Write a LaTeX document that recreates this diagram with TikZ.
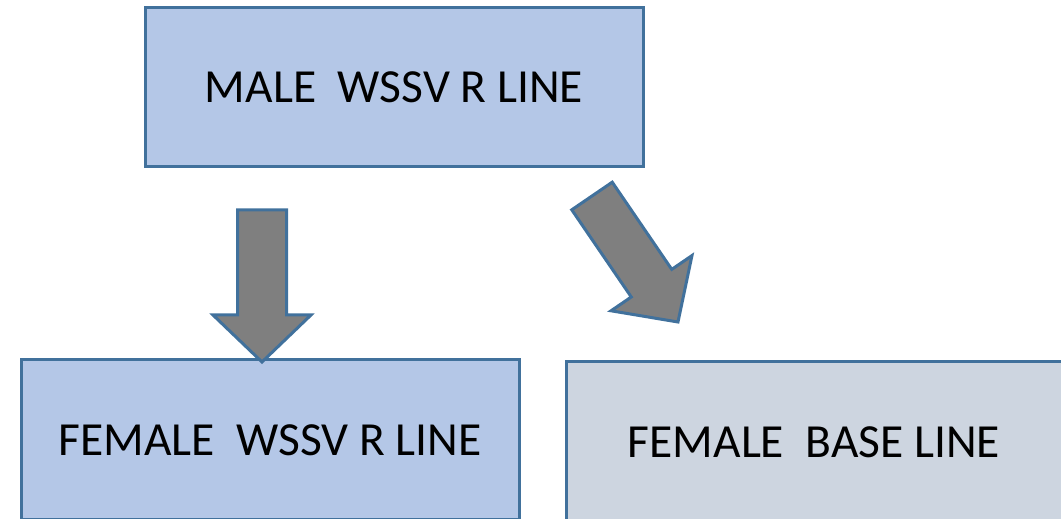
\documentclass[tikz,border=0pt]{standalone}
\usepackage{fontspec}
\setmainfont{Carlito}
\usetikzlibrary{calc}

\definecolor{boxline}{HTML}{41719C}
\definecolor{boxblue}{HTML}{B4C7E7}
\definecolor{boxgrey}{HTML}{CDD5E0}
\definecolor{arrowgrey}{HTML}{7F7F7F}

% block arrow from #1 to #2 (tip at #2)
\newcommand\fatarrow[2]{%
  \coordinate (#1-hb) at ($(#2)!47pt!(#1)$);
  \draw[fat]
    ($(#1)!24.5pt!90:(#2)$) -- ($(#1-hb)!24.5pt!90:(#2)$) --
    ($(#1-hb)!49pt!90:(#2)$) -- (#2) --
    ($(#1-hb)!49pt!-90:(#2)$) -- ($(#1-hb)!24.5pt!-90:(#2)$) --
    ($(#1)!24.5pt!-90:(#2)$) -- cycle;
}

\begin{document}
\begin{tikzpicture}[
        x=1pt, y=1pt,
        every node/.append style={draw=boxline, line width=3pt, inner sep=0pt,
            minimum width=498pt, minimum height=160pt,
            font=\fontsize{47.5}{56}\selectfont},
        fat/.style={draw=boxline, line width=3pt, fill=arrowgrey, line join=miter}
    ]
        \useasboundingbox (0,0) rectangle (1061,519);
        \clip (0,0) rectangle (1061,519);
        \node[fill=boxblue, minimum height=159pt] (M) at (394, 431.5) {MALE\ \ WSSV R LINE};
        \node[fill=boxblue] (FR) at (270, 79) {FEMALE\ \ WSSV R LINE};
        \node[fill=boxgrey, minimum width=496pt] (FB) at (814, 77) {FEMALE\ \ BASE LINE};
        \coordinate (a1) at (262, 309);
        \coordinate (a2) at (262, 157);
        \coordinate (b1) at (592, 323);
        \coordinate (b2) at (678, 197);
        \fatarrow{a1}{a2}
        \fatarrow{b1}{b2}
    \end{tikzpicture}
\end{document}
